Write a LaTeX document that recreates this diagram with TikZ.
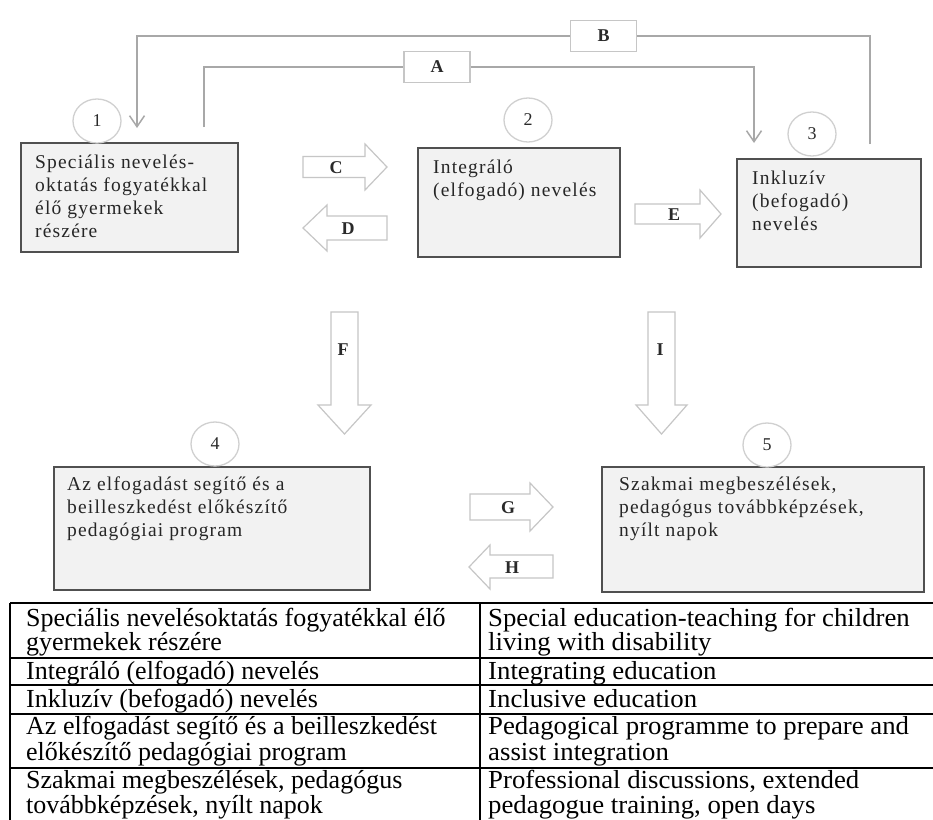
\documentclass[tikz,border=0pt]{standalone}
\usepackage{fontspec}
\setmainfont{Liberation Serif}
\newfontfamily\boxfam[LetterSpace=6]{Liberation Serif}
\newfontfamily\tblfamL{Liberation Serif}
\newfontfamily\tblfamR[FakeStretch=1.03]{Liberation Serif}
\usetikzlibrary{shapes.geometric,arrows.meta}
\definecolor{boxline}{HTML}{505050}
\definecolor{boxfill}{HTML}{F2F2F2}
\definecolor{lightline}{HTML}{C6C6C6}
\definecolor{connline}{HTML}{A8A8A8}
\definecolor{circline}{HTML}{D0D0D0}
\definecolor{lbltext}{HTML}{2A2A2A}
\begin{document}
\begin{tikzpicture}[x=1pt,y=-1pt,
  mainbox/.style={draw=boxline,line width=2pt,fill=boxfill,inner sep=0pt},
  boxtext/.style={anchor=base west,inner sep=0pt,
    font=\boxfam\fontsize{19.5}{23}\selectfont,text=black!85},
  numcirc/.style={ellipse,draw=circline,line width=1.3pt,fill=white,
    minimum width=48pt,minimum height=44pt,inner sep=0pt,
    font=\fontsize{18}{18}\selectfont,text=lbltext},
  lblbox/.style={draw=lightline,line width=1.2pt,fill=white,
    minimum width=66pt,minimum height=31pt,inner sep=0pt,
    font=\bfseries\fontsize{18}{18}\selectfont,text=lbltext},
  lbl/.style={inner sep=0pt,font=\bfseries\fontsize{18}{18}\selectfont,text=lbltext},
  blk/.style={draw=lightline,line width=1.2pt,fill=white,line join=miter},
  conn/.style={draw=connline,line width=1.5pt},
  tip/.style={-{Straight Barb[length=11pt,width=15pt]}},
  tbl/.style={draw=black,line width=1.3pt},
  tblL/.style={anchor=base west,inner sep=0pt,font=\tblfamL\fontsize{26}{25}\selectfont},
  tblR/.style={anchor=base west,inner sep=0pt,font=\tblfamR\fontsize{26}{25}\selectfont}]
\useasboundingbox (0,0) rectangle (933,819);
\fill[white] (0,0) rectangle (933,819);

% main boxes
\node[mainbox,minimum width=217pt,minimum height=109pt] (b1) at (129.5,197.5) {};
\node[mainbox,minimum width=202pt,minimum height=109pt] (b2) at (519,202.5) {};
\node[mainbox,minimum width=184pt,minimum height=108pt] (b3) at (829,213) {};
\node[mainbox,minimum width=316pt,minimum height=123pt] (b4) at (212,528.5) {};
\node[mainbox,minimum width=322pt,minimum height=125pt] (b5) at (763,529.5) {};

% box texts (one node per line)
\node[boxtext] (t1a) at (35,168) {Speciális nevelés-};
\node[boxtext] (t1b) at (35,191) {oktatás fogyatékkal};
\node[boxtext] (t1c) at (35,214) {élő gyermekek};
\node[boxtext] (t1d) at (35,237) {részére};
\node[boxtext] (t2a) at (433,173) {Integráló};
\node[boxtext] (t2b) at (433,196) {(elfogadó) nevelés};
\node[boxtext] (t3a) at (752,184) {Inkluzív};
\node[boxtext] (t3b) at (752,207) {(befogadó)};
\node[boxtext] (t3c) at (752,230) {nevelés};
\node[boxtext] (t4a) at (67,490) {Az elfogadást segítő és a};
\node[boxtext] (t4b) at (67,513) {beilleszkedést előkészítő};
\node[boxtext] (t4c) at (67,536) {pedagógiai program};
\node[boxtext] (t5a) at (619,490) {Szakmai megbeszélések,};
\node[boxtext] (t5b) at (619,513) {pedagógus továbbképzések,};
\node[boxtext] (t5c) at (619,536) {nyílt napok};

% connectors A and B
\coordinate (aS) at (204,127);
\coordinate (aE) at (754,143);
\coordinate (bS) at (870,144);
\coordinate (bE) at (137,128);
\node[lblbox] (A) at (437,67) {A};
\node[lblbox] (B) at (603.5,36) {B};
\draw[conn] (aS) |- (A.west);
\draw[conn,tip] (A.east) -| (aE);
\draw[conn] (bS) |- (B.east);
\draw[conn,tip] (B.west) -| (bE);

% number circles
\node[numcirc] (c1) at (97,121) {1};
\node[numcirc] (c2) at (528,120) {2};
\node[numcirc] (c3) at (812,134) {3};
\node[numcirc] (c4) at (215,444) {4};
\node[numcirc] (c5) at (767,445) {5};

% block arrows
% C (right)
\draw[blk] (303,156.5) -- (365,156.5) -- (365,144) -- (387,167) -- (365,190) -- (365,177.5) -- (303,177.5) -- cycle;
\node[lbl] (C) at (336,168) {C};
% D (left)
\draw[blk] (387,216) -- (327,216) -- (327,205) -- (303,228) -- (327,251) -- (327,240) -- (387,240) -- cycle;
\node[lbl] (D) at (348,229) {D};
% E (right)
\draw[blk] (635,204) -- (700,204) -- (700,190) -- (721,214) -- (700,238) -- (700,224) -- (635,224) -- cycle;
\node[lbl] (E) at (674,215) {E};
% F (down)
\draw[blk] (331,312) -- (358,312) -- (358,405) -- (371,405) -- (344.5,434) -- (318,405) -- (331,405) -- cycle;
\node[lbl] (F) at (343,350) {F};
% I (down)
\draw[blk] (648,312) -- (675,312) -- (675,405) -- (687,405) -- (661.5,434) -- (636,405) -- (648,405) -- cycle;
\node[lbl] (I) at (660,350) {I};
% G (right)
\draw[blk] (470,494) -- (530,494) -- (530,483) -- (553,507) -- (530,531) -- (530,520) -- (470,520) -- cycle;
\node[lbl] (G) at (508,508) {G};
% H (left)
\draw[blk] (553,555) -- (490,555) -- (490,545) -- (469,567) -- (490,589) -- (490,578) -- (553,578) -- cycle;
\node[lbl] (H) at (512,568) {H};

% table
\draw[tbl] (10,603) -- (940,603);
\draw[tbl] (10,658) -- (940,658);
\draw[tbl] (10,685) -- (940,685);
\draw[tbl] (10,714) -- (940,714);
\draw[tbl] (10,768) -- (940,768);
\draw[tbl] (10,603) -- (10,830);
\draw[tbl] (480,603) -- (480,830);

\node[tblL] (l1a) at (26,626) {Speciális nevelésoktatás fogyatékkal élő};
\node[tblL] (l1b) at (26,650) {gyermekek részére};
\node[tblL] (l2) at (26,679) {Integráló (elfogadó) nevelés};
\node[tblL] (l3) at (26,707) {Inkluzív (befogadó) nevelés};
\node[tblL] (l4a) at (26,734) {Az elfogadást segítő és a beilleszkedést};
\node[tblL] (l4b) at (26,760) {előkészítő pedagógiai program};
\node[tblL] (l5a) at (26,788) {Szakmai megbeszélések, pedagógus};
\node[tblL] (l5b) at (26,813) {továbbképzések, nyílt napok};

\node[tblR] (r1a) at (488,626) {Special education-teaching for children};
\node[tblR] (r1b) at (488,650) {living with disability};
\node[tblR] (r2) at (488,679) {Integrating education};
\node[tblR] (r3) at (488,707) {Inclusive education};
\node[tblR] (r4a) at (488,734) {Pedagogical programme to prepare and};
\node[tblR] (r4b) at (488,760) {assist integration};
\node[tblR] (r5a) at (488,788) {Professional discussions, extended};
\node[tblR] (r5b) at (488,813) {pedagogue training, open days};
\end{tikzpicture}
\end{document}
